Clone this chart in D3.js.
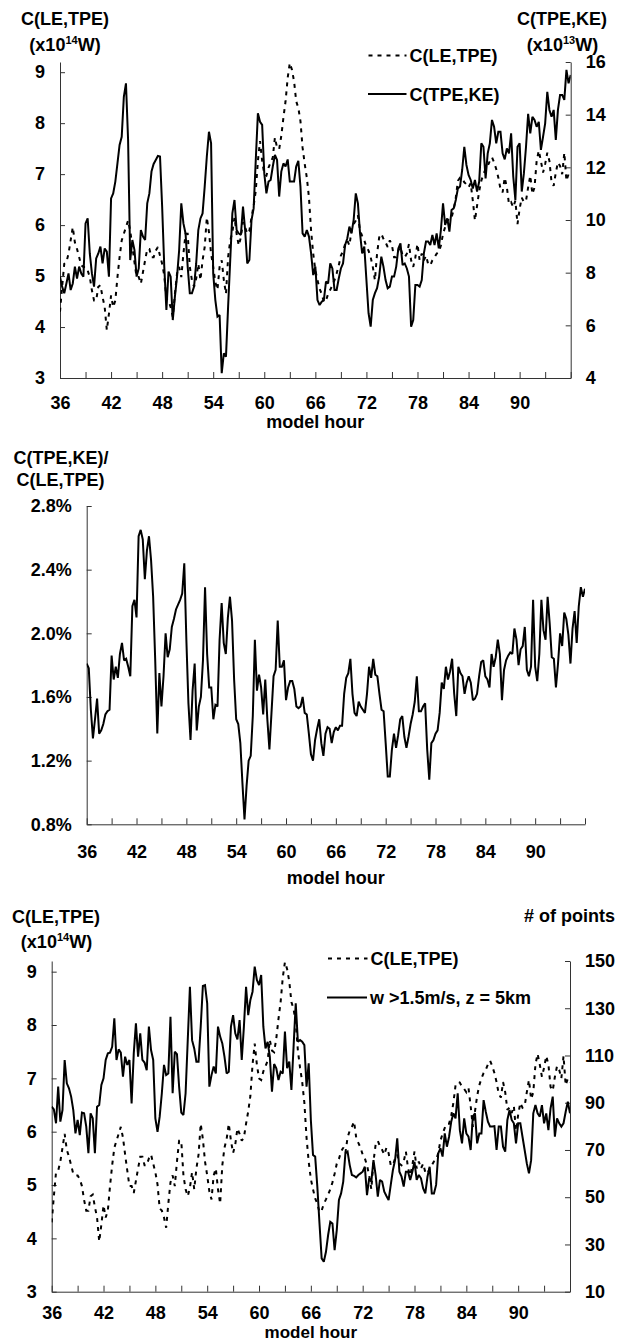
<!DOCTYPE html>
<html>
<head>
<meta charset="utf-8">
<script src="https://cdn.jsdelivr.net/npm/d3@7"></script>
<style>
  body { margin: 0; background: #fff; }
  svg text { font-family: "Liberation Sans", Arial, sans-serif; font-weight: bold; fill: #000; }
</style>
</head>
<body>
<svg id="fig" width="619" height="1342"></svg>
<script>
// Time base: one value every quarter hour from model hour 36 to 96
const HOUR_START = 36;
const HOUR_STEP = 0.25;

// Tick values and labels
const hourTicks = [36, 39, 42, 45, 48, 51, 54, 57, 60, 63, 66, 69, 72, 75, 78, 81, 84, 87, 90, 93, 96];
const hourLabels = [36, 42, 48, 54, 60, 66, 72, 78, 84, 90];
const leTpeTicks = [3, 4, 5, 6, 7, 8, 9];
const tpeKeTicks = [4, 6, 8, 10, 12, 14, 16];
const ratioTicks = [0.8, 1.2, 1.6, 2.0, 2.4, 2.8];
const pointTicks = [10, 30, 50, 70, 90, 110, 130, 150];

// C(LE,TPE), x10^14 W
const leTpe = [
  4.30, 4.79, 5.24, 5.27, 5.44, 5.70, 5.96, 5.66, 5.53, 5.37,
  5.21, 5.18, 5.18, 5.11, 4.98, 4.72, 4.52, 4.52, 4.79, 4.82,
  4.59, 4.39, 3.94, 4.26, 4.62, 4.39, 4.52, 4.98, 5.37, 5.70,
  5.83, 5.96, 6.09, 5.89, 5.57, 5.27, 4.98, 4.98, 4.85, 5.08,
  5.31, 5.53, 5.53, 5.37, 5.37, 5.50, 5.57, 5.40, 5.24, 5.01,
  4.56, 4.52, 4.39, 4.20, 4.65, 5.05, 5.18, 4.98, 5.44, 5.83,
  5.83, 5.18, 4.92, 4.79, 4.95, 5.24, 4.92, 5.31, 5.57, 6.15,
  5.86, 5.44, 5.18, 4.88, 4.73, 5.18, 5.31, 4.92, 4.65, 5.37,
  5.70, 5.86, 6.15, 5.83, 5.60, 5.76, 6.06, 5.96, 5.83, 5.89,
  6.15, 6.38, 6.67, 7.26, 7.65, 7.26, 7.00, 6.97, 7.13, 7.23,
  7.33, 7.72, 7.52, 7.49, 7.75, 8.11, 8.43, 8.89, 9.18, 9.05,
  8.82, 8.43, 8.30, 8.04, 7.52, 7.20, 6.93, 6.54, 5.89, 5.44,
  5.11, 4.92, 4.75, 4.65, 4.49, 4.52, 4.65, 4.73, 4.82, 4.92,
  5.05, 5.21, 5.40, 5.49, 5.63, 5.70, 5.60, 5.89, 6.02, 6.09,
  6.19, 5.89, 5.79, 5.70, 5.57, 5.50, 5.37, 5.18, 4.92, 5.44,
  5.76, 5.83, 5.73, 5.66, 5.57, 5.70, 5.60, 5.37, 5.37, 5.50,
  5.57, 5.40, 5.37, 5.44, 5.63, 5.31, 5.18, 5.37, 5.63, 5.31,
  5.44, 5.31, 5.40, 5.24, 5.21, 5.31, 5.37, 5.44, 5.47, 5.60,
  5.83, 5.96, 6.07, 6.15, 6.15, 6.30, 6.54, 6.87, 6.93, 6.92,
  6.84, 6.80, 6.74, 6.82, 6.48, 6.09, 6.38, 6.67, 6.87, 7.00,
  7.10, 7.16, 7.26, 7.33, 7.23, 7.10, 6.93, 6.71, 6.64, 6.93,
  6.74, 6.41, 6.45, 6.35, 6.48, 6.02, 6.32, 6.54, 6.45, 6.48,
  6.74, 6.97, 6.61, 6.74, 7.26, 7.46, 7.26, 7.03, 7.20, 7.42,
  7.26, 6.84, 6.77, 7.03, 7.23, 7.16, 7.00, 7.42, 6.87, 7.00, 6.93
];

// C(TPE,KE), x10^13 W
const tpeKe = [
  7.85, 7.47, 7.22, 7.59, 7.97, 7.34, 7.59, 8.23, 7.78, 8.23,
  7.97, 7.85, 9.87, 10.06, 8.73, 7.97, 7.47, 8.54, 8.73, 8.99,
  8.35, 8.92, 8.80, 7.85, 10.82, 11.01, 11.46, 12.15, 12.85, 13.16,
  14.68, 15.19, 13.04, 8.48, 9.24, 8.86, 7.85, 8.16, 9.62, 9.37,
  9.24, 10.63, 11.01, 11.84, 12.13, 12.28, 12.43, 12.41, 10.51, 8.23,
  6.58, 8.04, 7.85, 6.20, 7.09, 7.85, 8.86, 10.63, 9.87, 9.49,
  8.23, 7.22, 7.22, 7.47, 8.35, 9.62, 10.06, 10.25, 11.27, 12.41,
  13.35, 12.91, 7.97, 6.96, 6.33, 6.39, 4.18, 4.94, 4.81, 6.71,
  8.48, 10.25, 10.76, 9.62, 9.49, 9.43, 10.51, 9.62, 8.35, 8.48,
  10.00, 10.44, 12.28, 14.05, 13.73, 13.61, 11.77, 11.01, 11.46, 11.52,
  12.03, 12.47, 12.28, 10.89, 11.84, 12.15, 12.03, 12.30, 11.46, 11.46,
  11.46, 12.03, 12.25, 11.27, 9.49, 9.37, 9.62, 9.37, 8.73, 7.91,
  8.23, 6.96, 6.77, 6.90, 6.96, 7.66, 7.59, 8.35, 8.16, 7.34,
  7.34, 7.78, 8.16, 8.35, 9.05, 9.30, 9.75, 9.49, 10.00, 11.01,
  10.63, 9.49, 8.73, 8.99, 7.72, 6.46, 5.95, 6.96, 7.22, 7.41,
  7.85, 8.61, 8.23, 7.72, 7.41, 7.47, 7.85, 7.85, 8.23, 8.92,
  9.11, 8.29, 8.35, 8.16, 7.85, 5.95, 6.20, 7.53, 7.53, 7.47,
  7.72, 8.73, 9.18, 9.18, 9.05, 9.43, 9.05, 9.49, 8.92, 9.62,
  10.63, 9.81, 10.06, 9.56, 10.38, 10.44, 10.76, 11.20, 11.27, 11.90,
  12.78, 12.09, 11.71, 11.52, 11.20, 11.52, 11.08, 11.46, 12.91, 12.78,
  11.58, 12.53, 12.91, 13.80, 13.54, 12.91, 13.35, 13.35, 12.53, 12.30,
  12.72, 12.53, 13.29, 11.65, 10.76, 12.78, 12.91, 11.08, 11.77, 12.78,
  14.03, 13.29, 13.92, 13.80, 13.54, 13.73, 12.66, 13.16, 13.67, 14.87,
  14.18, 13.92, 14.18, 13.04, 14.18, 14.75, 14.75, 14.56, 15.70, 15.19, 15.51
];

// C(TPE,KE)/C(LE,TPE), percent
const keRatio = [
  1.81, 1.78, 1.52, 1.34, 1.46, 1.59, 1.37, 1.39, 1.43, 1.49,
  1.51, 1.52, 1.86, 1.71, 1.79, 1.72, 1.87, 1.94, 1.83, 1.84,
  1.79, 1.73, 2.17, 2.21, 2.10, 2.61, 2.65, 2.59, 2.34, 2.52,
  2.61, 2.46, 2.23, 1.83, 1.37, 1.75, 1.54, 1.73, 2.00, 1.85,
  1.90, 2.04, 2.09, 2.15, 2.18, 2.21, 2.25, 2.44, 1.96, 1.56,
  1.33, 1.64, 1.81, 1.39, 1.54, 1.60, 1.83, 2.29, 1.87, 1.66,
  1.66, 1.46, 1.55, 1.54, 1.96, 2.19, 1.94, 1.87, 2.10, 2.23,
  2.08, 1.71, 1.46, 1.43, 1.31, 1.06, 0.83, 1.04, 1.20, 1.23,
  1.48, 1.96, 1.64, 1.74, 1.66, 1.49, 1.71, 1.46, 1.27, 1.50,
  1.73, 1.77, 2.08, 1.79, 1.79, 1.83, 1.58, 1.66, 1.70, 1.70,
  1.65, 1.54, 1.53, 1.54, 1.60, 1.50, 1.49, 1.37, 1.24, 1.20,
  1.33, 1.40, 1.46, 1.31, 1.23, 1.37, 1.41, 1.40, 1.31, 1.38,
  1.41, 1.39, 1.42, 1.42, 1.62, 1.72, 1.75, 1.84, 1.62, 1.50,
  1.48, 1.57, 1.54, 1.52, 1.50, 1.62, 1.79, 1.72, 1.84, 1.74,
  1.73, 1.62, 1.52, 1.51, 1.31, 1.10, 1.10, 1.27, 1.37, 1.28,
  1.36, 1.46, 1.48, 1.35, 1.28, 1.35, 1.43, 1.49, 1.57, 1.73,
  1.51, 1.51, 1.54, 1.56, 1.27, 1.08, 1.31, 1.33, 1.37, 1.39,
  1.50, 1.69, 1.65, 1.79, 1.71, 1.76, 1.84, 1.62, 1.48, 1.79,
  1.75, 1.73, 1.62, 1.69, 1.73, 1.69, 1.58, 1.59, 1.62, 1.73,
  1.82, 1.83, 1.73, 1.71, 1.66, 1.87, 1.79, 1.85, 1.96, 1.87,
  1.58, 1.77, 1.83, 1.86, 1.88, 1.87, 2.03, 1.96, 1.80, 1.90,
  1.92, 2.04, 1.77, 1.73, 1.79, 2.21, 1.79, 1.70, 1.87, 2.21,
  2.02, 1.96, 2.23, 2.06, 1.85, 1.84, 1.66, 1.81, 2.00, 1.92,
  2.13, 2.09, 1.99, 1.81, 2.03, 2.14, 1.94, 2.17, 2.29, 2.23, 2.28
];

// Number of grid points with w > 1.5 m/s at z = 5 km
const strongUpdraftPoints = [
  88.3, 87.2, 81.3, 96.8, 82.0, 86.9, 108.1, 98.2, 96.1, 92.6,
  86.9, 77.0, 82.7, 76.3, 85.8, 85.5, 79.9, 68.6, 85.5, 83.4,
  68.6, 88.3, 89.0, 97.5, 100.3, 108.1, 110.9, 111.2, 113.7, 125.7,
  108.1, 112.6, 111.2, 101.0, 109.5, 106.0, 108.1, 89.7, 110.9, 123.6,
  109.5, 119.4, 108.1, 107.0, 103.8, 122.2, 112.3, 108.1, 83.4, 77.7,
  84.1, 94.0, 106.0, 101.7, 102.4, 126.4, 94.0, 111.6, 110.6, 96.8,
  85.8, 84.8, 94.0, 116.5, 139.1, 116.5, 113.0, 107.4, 107.4, 122.2,
  139.4, 139.8, 132.1, 96.8, 101.7, 105.3, 102.4, 122.2, 118.0, 115.1,
  109.5, 102.4, 103.1, 122.2, 127.1, 119.4, 116.8, 125.0, 108.1, 122.2,
  139.1, 127.1, 133.5, 137.0, 147.6, 142.0, 139.8, 144.1, 122.2, 113.0,
  115.8, 109.5, 94.7, 106.4, 104.6, 99.6, 103.1, 102.4, 120.1, 104.6,
  107.4, 95.4, 113.7, 132.1, 115.8, 116.5, 115.8, 114.4, 96.8, 106.7,
  82.7, 67.9, 67.2, 54.5, 38.9, 24.1, 22.7, 26.9, 34.0, 39.6,
  38.9, 27.6, 36.1, 48.8, 51.6, 56.6, 68.6, 69.3, 63.6, 59.4,
  59.0, 58.4, 59.4, 60.1, 60.8, 62.9, 50.9, 58.0, 56.6, 65.7,
  59.4, 50.2, 57.3, 56.6, 52.3, 50.5, 48.8, 55.2, 61.5, 65.7,
  74.9, 60.8, 58.7, 54.5, 60.8, 60.8, 57.3, 60.8, 65.0, 57.3,
  59.4, 58.0, 53.7, 51.6, 58.7, 62.9, 51.6, 51.6, 55.2, 68.6,
  70.7, 67.2, 77.0, 71.4, 75.6, 82.0, 85.5, 83.4, 94.0, 78.4,
  72.8, 83.4, 77.0, 75.6, 70.0, 84.1, 85.5, 72.8, 77.0, 77.0,
  91.1, 86.2, 82.0, 79.9, 79.9, 80.1, 70.0, 79.9, 79.9, 71.4,
  69.3, 82.7, 86.9, 82.7, 81.3, 72.8, 81.3, 81.3, 75.6, 70.0,
  64.3, 60.1, 65.7, 85.5, 89.0, 85.5, 84.1, 89.0, 81.3, 85.5,
  78.4, 87.6, 92.6, 75.6, 83.4, 81.3, 79.9, 81.3, 86.2, 90.4, 85.5
];

const FONT = 18;
const AXIS_COLOR = "#333";
const DASH = "4,5";
const svg = d3.select("#fig");

function hourOf(i) { return HOUR_START + i * HOUR_STEP; }

function styleAxis(g) {
  g.attr("font-size", FONT)
   .attr("font-family", "'Liberation Sans', Arial, sans-serif")
   .attr("font-weight", "bold")
   .attr("color", AXIS_COLOR);
  g.selectAll(".tick text").attr("fill", "#000");
  g.selectAll("line, path").attr("stroke-width", 1);
}

// Build a panel: clip region, x axis with inward ticks, and its title
function panel(box, id) {
  const x = d3.scaleLinear().domain([36, 96]).range([box.left, box.right]);
  svg.append("clipPath").attr("id", id)
    .append("rect")
    .attr("x", box.left).attr("y", box.top - 1)
    .attr("width", box.right - box.left).attr("height", box.bottom - box.top + 2);

  const gx = svg.append("g")
    .attr("transform", `translate(0,${box.bottom})`)
    .call(d3.axisBottom(x)
      .tickValues(hourTicks)
      .tickSizeInner(-6).tickSizeOuter(0)
      .tickPadding(box.xPad)
      .tickFormat(d => hourLabels.includes(d) ? d : ""));
  styleAxis(gx);

  svg.append("text")
    .attr("x", (box.left + box.right) / 2)
    .attr("y", box.xTitleY)
    .attr("text-anchor", "middle")
    .attr("font-size", box.xTitleSize || FONT)
    .text("model hour");
  return x;
}

function leftAxis(y, box, ticks, fmt) {
  const g = svg.append("g")
    .attr("transform", `translate(${box.left},0)`)
    .call(d3.axisLeft(y).tickValues(ticks)
      .tickSizeInner(-5).tickSizeOuter(0).tickPadding(15)
      .tickFormat(fmt));
  styleAxis(g);
}

function rightAxis(y, box, ticks) {
  const g = svg.append("g")
    .attr("transform", `translate(${box.right},0)`)
    .call(d3.axisRight(y).tickValues(ticks)
      .tickSizeInner(-5).tickSizeOuter(0).tickPadding(15)
      .tickFormat(d3.format("d")));
  styleAxis(g);
}

function series(values, x, y, clipId, dashed) {
  const line = d3.line()
    .x((d, i) => x(hourOf(i)))
    .y(d => y(d));
  svg.append("path")
    .datum(values)
    .attr("clip-path", `url(#${clipId})`)
    .attr("fill", "none")
    .attr("stroke", "#000")
    .attr("stroke-width", 2)
    .attr("stroke-linejoin", "miter")
    .attr("stroke-miterlimit", 2)
    .attr("stroke-dasharray", dashed ? DASH : null)
    .attr("d", line);
}

function label(x, y, parts, anchor) {
  const t = svg.append("text")
    .attr("x", x).attr("y", y)
    .attr("text-anchor", anchor || "middle")
    .attr("font-size", FONT);
  parts.forEach(p => {
    const s = t.append("tspan").text(p.text);
    if (p.sup) s.attr("font-size", 11).attr("dy", -7);
    else if (p.after) s.attr("font-size", FONT).attr("dy", 7);
  });
}

function unitLabel(x, y, exp) {
  label(x, y, [{ text: "(x10" }, { text: exp, sup: true }, { text: "W)", after: true }]);
}

function legendEntry(x1, x2, y, text, dashed) {
  svg.append("line")
    .attr("x1", x1).attr("x2", x2).attr("y1", y).attr("y2", y)
    .attr("stroke", "#000").attr("stroke-width", 2)
    .attr("stroke-dasharray", dashed ? DASH : null);
  svg.append("text")
    .attr("x", x2 + 3).attr("y", y + 6.5)
    .attr("font-size", FONT)
    .text(text);
}

// ---------- Panel 1: C(LE,TPE) and C(TPE,KE) ----------
{
  const box = { left: 60, right: 570.7, top: 62, bottom: 378, xPad: 18, xTitleY: 428 };
  const x = panel(box, "clip1");
  const yL = d3.scaleLinear().domain([3, 9.2]).range([box.bottom, box.top]);
  const yR = d3.scaleLinear().domain([4, 16]).range([box.bottom, box.top]);
  leftAxis(yL, box, leTpeTicks, d3.format("d"));
  rightAxis(yR, box, tpeKeTicks);
  series(leTpe, x, yL, "clip1", true);
  series(tpeKe, x, yR, "clip1", false);

  label(65, 24.5, [{ text: "C(LE,TPE)" }]);
  unitLabel(65, 50.5, "14");
  label(562, 24.5, [{ text: "C(TPE,KE)" }]);
  unitLabel(562.5, 50.5, "13");

  legendEntry(368.5, 406.5, 55.5, "C(LE,TPE)", true);
  legendEntry(368, 406.5, 94, "C(TPE,KE)", false);
}

// ---------- Panel 2: ratio C(TPE,KE)/C(LE,TPE) ----------
{
  const box = { left: 86.7, right: 585, top: 506, bottom: 824.3, xPad: 21, xTitleY: 884 };
  const x = panel(box, "clip2");
  const y = d3.scaleLinear().domain([0.8, 2.8]).range([box.bottom, box.top]);
  leftAxis(y, box, ratioTicks, d => d.toFixed(1) + "%");
  series(keRatio, x, y, "clip2", false);

  label(61, 463.5, [{ text: "C(TPE,KE)/" }]);
  label(60.5, 485.5, [{ text: "C(LE,TPE)" }]);
}

// ---------- Panel 3: C(LE,TPE) and strong-updraft point count ----------
{
  const box = { left: 51.7, right: 570, top: 961, bottom: 1291.7, xPad: 14.5, xTitleY: 1337.5, xTitleSize: 17 };
  const x = panel(box, "clip3");
  const yL = d3.scaleLinear().domain([3, 9.2]).range([box.bottom, box.top]);
  const yR = d3.scaleLinear().domain([10, 150]).range([box.bottom, box.top]);
  leftAxis(yL, box, leTpeTicks, d3.format("d"));
  rightAxis(yR, box, pointTicks);
  series(leTpe, x, yL, "clip3", true);
  series(strongUpdraftPoints, x, yR, "clip3", false);

  label(56, 923, [{ text: "C(LE,TPE)" }]);
  unitLabel(56.5, 948, "14");
  label(569.5, 922, [{ text: "# of points" }]);

  legendEntry(328, 367.5, 958.5, "C(LE,TPE)", true);
  legendEntry(327, 367, 997.5, "w >1.5m/s, z = 5km", false);
}
</script>
</body>
</html>
